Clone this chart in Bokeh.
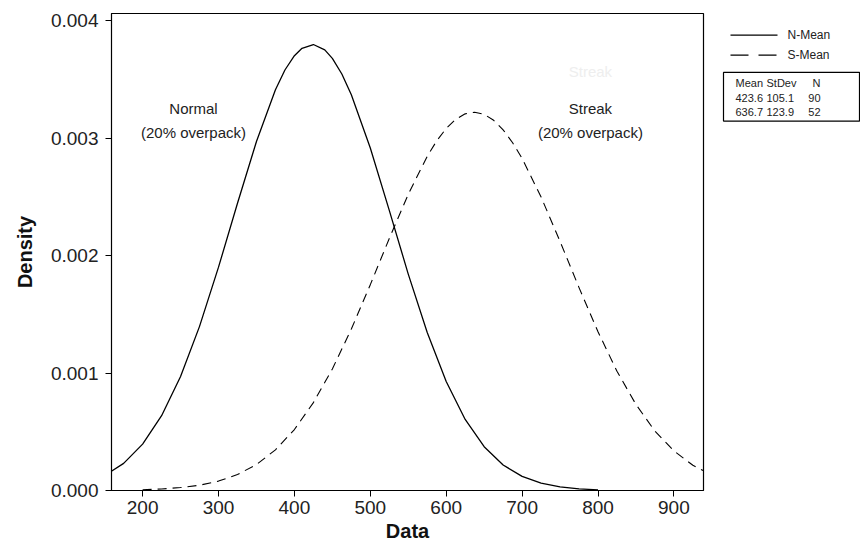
from bokeh.plotting import figure
from bokeh.layouts import row
from bokeh.models import Range1d, FixedTicker, NumeralTickFormatter, Label
from bokeh.core.properties import value
from bokeh.embed import file_html
from bokeh.resources import INLINE

# ---- data ----
n_x = [150, 175, 200, 225, 250, 275, 300, 325, 350, 375, 387.5, 400, 410, 425, 440,
       450, 462.5, 475, 500, 525, 550, 575, 600, 625, 650, 675, 700, 725, 750, 775, 800]
n_density = [0.000128, 0.000231, 0.000395, 0.000637, 0.000970, 0.001397, 0.001901,
             0.002445, 0.002970, 0.003411, 0.003579, 0.003701, 0.003764, 0.003796,
             0.003750, 0.003678, 0.003545, 0.003368, 0.002915, 0.002384, 0.001842,
             0.001345, 0.000928, 0.000605, 0.000373, 0.000217, 0.000120, 0.000062,
             0.000031, 0.000014, 0.000006]

s_x = [200, 225, 250, 275, 300, 325, 350, 375, 400, 425, 450, 475, 500, 525, 550,
       575, 587.5, 600, 612.5, 625, 637.5, 650, 662.5, 675, 687.5, 700, 725, 750, 775,
       800, 825, 850, 875, 900, 925, 950]
s_density = [0.0000065, 0.000013, 0.000025, 0.000045, 0.000080, 0.000136, 0.000221,
             0.000346, 0.000519, 0.000748, 0.001035, 0.001374, 0.001752, 0.002145,
             0.002521, 0.002845, 0.002976, 0.003082, 0.003159, 0.003206, 0.003220,
             0.003202, 0.003151, 0.003070, 0.002960, 0.002826, 0.002498, 0.002120,
             0.001727, 0.001351, 0.001015, 0.000732, 0.000506, 0.000337, 0.000215,
             0.000132]

series_names = ["N-Mean", "S-Mean"]
table_header = ["Mean", "StDev", "N"]
means = [423.6, 636.7]
stdevs = [105.1, 123.9]
counts = [90, 52]

x_ticks = [200, 300, 400, 500, 600, 700, 800, 900]
y_ticks = [0.000, 0.001, 0.002, 0.003, 0.004]

FONT = "Liberation Sans"

p = figure(width=706, height=550, output_backend="svg", toolbar_location=None,
           x_range=Range1d(159, 939), y_range=Range1d(0, 0.00406),
           min_border_left=111, min_border_right=3, min_border_top=13, min_border_bottom=60,
           background_fill_color="white", border_fill_color="white")
p.grid.visible = False
p.outline_line_color = "black"
p.outline_line_width = 1.2

for ax in (p.xaxis[0], p.yaxis[0]):
    ax.major_label_text_font = FONT
    ax.major_label_text_font_size = "19px"
    ax.major_label_text_color = "#222222"
    ax.axis_label_text_font = FONT
    ax.axis_label_text_font_size = "20px"
    ax.axis_label_text_font_style = "bold"
    ax.axis_label_text_color = "#111111"
    ax.major_tick_out = 6
    ax.major_tick_in = 0
    ax.minor_tick_out = 0
    ax.minor_tick_in = 0
    ax.axis_line_color = "black"
    ax.major_tick_line_color = "black"

p.xaxis.ticker = FixedTicker(ticks=x_ticks)
p.yaxis.ticker = FixedTicker(ticks=y_ticks)
p.yaxis.formatter = NumeralTickFormatter(format="0.000")
p.xaxis.axis_label = "Data"
p.yaxis.axis_label = "Density"
p.xaxis.major_label_standoff = 4
p.xaxis.axis_label_standoff = 3
p.yaxis.major_label_standoff = 7
p.yaxis.axis_label_standoff = 12

p.line(n_x, n_density, line_color="black", line_width=1.3)
p.line(s_x, s_density, line_color="black", line_width=1.1, line_dash="9 6")

ann_font = dict(text_font=FONT, text_font_size="15px", text_align="center",
                text_baseline="middle", text_color="#222222")
p.add_layout(Label(x=790, y=0.00357, text="Streak", text_color="#eeeeee",
                   text_font=FONT, text_font_size="15px", text_align="center",
                   text_baseline="middle"))
p.add_layout(Label(x=267, y=0.00325, text="Normal", **ann_font))
p.add_layout(Label(x=267, y=0.00305, text="(20% overpack)", **ann_font))
p.add_layout(Label(x=790, y=0.00325, text="Streak", **ann_font))
p.add_layout(Label(x=790, y=0.00305, text="(20% overpack)", **ann_font))

# ---- side panel: legend and summary table ----
q = figure(width=154, height=550, output_backend="svg", toolbar_location=None,
           x_range=Range1d(0, 154), y_range=Range1d(550, 0),
           min_border=0, background_fill_color="white", border_fill_color="white")
q.axis.visible = False
q.grid.visible = False
q.outline_line_color = None

leg_y = [25, 48]
q.line([24, 71], [leg_y[0], leg_y[0]], line_color="black", line_width=1.2)
q.line([24, 71], [leg_y[1], leg_y[1]], line_color="black", line_width=1.1, line_dash="18 10")
q.text(x=[81, 81], y=leg_y, text=series_names, text_font=value(FONT),
       text_font_size="12px", text_baseline="middle", text_color="#222222")

q.quad(left=[17], right=[153], top=[68], bottom=[124], fill_color=None,
       line_color="black", line_width=1.2)
col_x = [29, 60, 114]
row_y = [80, 97, 114]
tbl_font = dict(text_font=value(FONT), text_font_size="11px", text_baseline="middle",
                text_color="#222222")
q.text(x=col_x[:2], y=[row_y[0]] * 2, text=table_header[:2], **tbl_font)
q.text(x=[col_x[2]], y=[row_y[0]], text=[table_header[2]], text_align="right", **tbl_font)
for i in range(2):
    q.text(x=col_x[:2], y=[row_y[i + 1]] * 2,
           text=[f"{means[i]:.1f}", f"{stdevs[i]:.1f}"], **tbl_font)
    q.text(x=[col_x[2]], y=[row_y[i + 1]], text=[str(counts[i])], text_align="right", **tbl_font)

layout = row(p, q, spacing=0)
open("out.html", "w").write(file_html(layout, INLINE))
